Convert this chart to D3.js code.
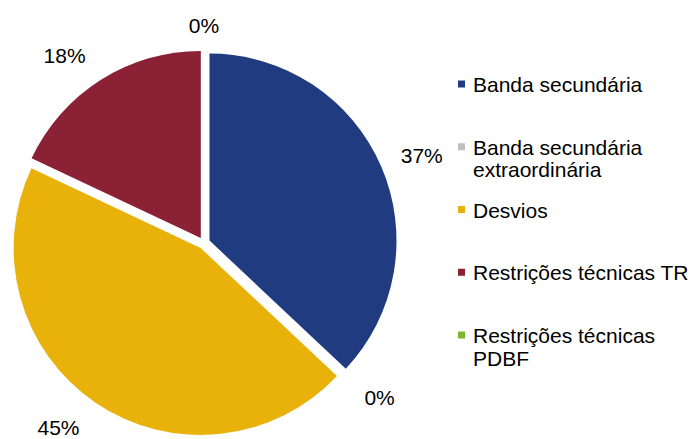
<!DOCTYPE html>
<html>
<head>
<meta charset="utf-8">
<script src="https://cdn.jsdelivr.net/npm/d3@7"></script>
<style>
  html, body { margin: 0; padding: 0; background: #ffffff; }
  svg { display: block; }
</style>
</head>
<body>
<svg id="chart" width="695" height="439"></svg>
<script>
// ---- data ----
const categories = ["Banda secundária", "Banda secundária extraordinária", "Desvios", "Restrições técnicas TR", "Restrições técnicas PDBF"];
const values = [37, 0, 45, 18, 0];
const valueLabels = ["37%", "0%", "45%", "18%", "0%"];
const legendLines = [["Banda secundária"], ["Banda secundária", "extraordinária"], ["Desvios"], ["Restrições técnicas TR"], ["Restrições técnicas", "PDBF"]];
const colors = ["#213B80", "#BFBFBF", "#E8B20A", "#8B2135", "#7BB631"];

// ---- layout ----
const FONT = "'Liberation Sans', Arial, Helvetica, sans-serif";
const cx = 204, cy = 243, radius = 187, explode = 6, labelR = 234;
const labelNudge = [[3, 5], [5, -6], [-14, -9], [-14, 10], [0, 16]];
const fontSize = 21;

const svg = d3.select("#chart");

const pie = d3.pie().sort(null).value(d => d)(values);
const arc = d3.arc().innerRadius(0).outerRadius(radius);

const g = svg.append("g").attr("transform", `translate(${cx},${cy})`);

g.selectAll("path.slice")
  .data(pie)
  .join("path")
  .attr("class", "slice")
  .attr("fill", (d, i) => colors[i])
  .attr("transform", d => {
    const a = (d.startAngle + d.endAngle) / 2;
    return `translate(${explode * Math.sin(a)},${-explode * Math.cos(a)})`;
  })
  .attr("d", arc);

function labelAngle(d, i) {
  let a = (d.startAngle + d.endAngle) / 2;
  if (d.value === 0 && i === values.length - 1) a = 2 * Math.PI;
  return a;
}

g.selectAll("text.val")
  .data(pie)
  .join("text")
  .attr("class", "val")
  .attr("font-family", FONT)
  .attr("fill", "#000")
  .attr("text-anchor", "middle")
  .attr("font-size", fontSize)
  .attr("x", (d, i) => labelR * Math.sin(labelAngle(d, i)) + labelNudge[i][0])
  .attr("y", (d, i) => -labelR * Math.cos(labelAngle(d, i)) + labelNudge[i][1] + 7.5)
  .text((d, i) => valueLabels[i]);

// ---- legend ----
const legY = d3.scalePoint().domain(d3.range(categories.length)).range([84, 335]);
const items = svg.append("g").selectAll("g.item")
  .data(categories)
  .join("g")
  .attr("class", "item")
  .attr("transform", (d, i) => `translate(458,${legY(i)})`);

items.append("rect")
  .attr("x", 0).attr("y", -3.5)
  .attr("width", 7).attr("height", 7)
  .attr("fill", (d, i) => colors[i]);

items.append("text")
  .attr("font-family", FONT)
  .attr("fill", "#000")
  .attr("font-size", fontSize)
  .attr("x", 15)
  .attr("y", 8)
  .selectAll("tspan")
  .data((d, i) => legendLines[i])
  .join("tspan")
  .attr("x", 15)
  .attr("dy", (d, j) => j === 0 ? 0 : 22.5)
  .text(d => d);
</script>
</body>
</html>
